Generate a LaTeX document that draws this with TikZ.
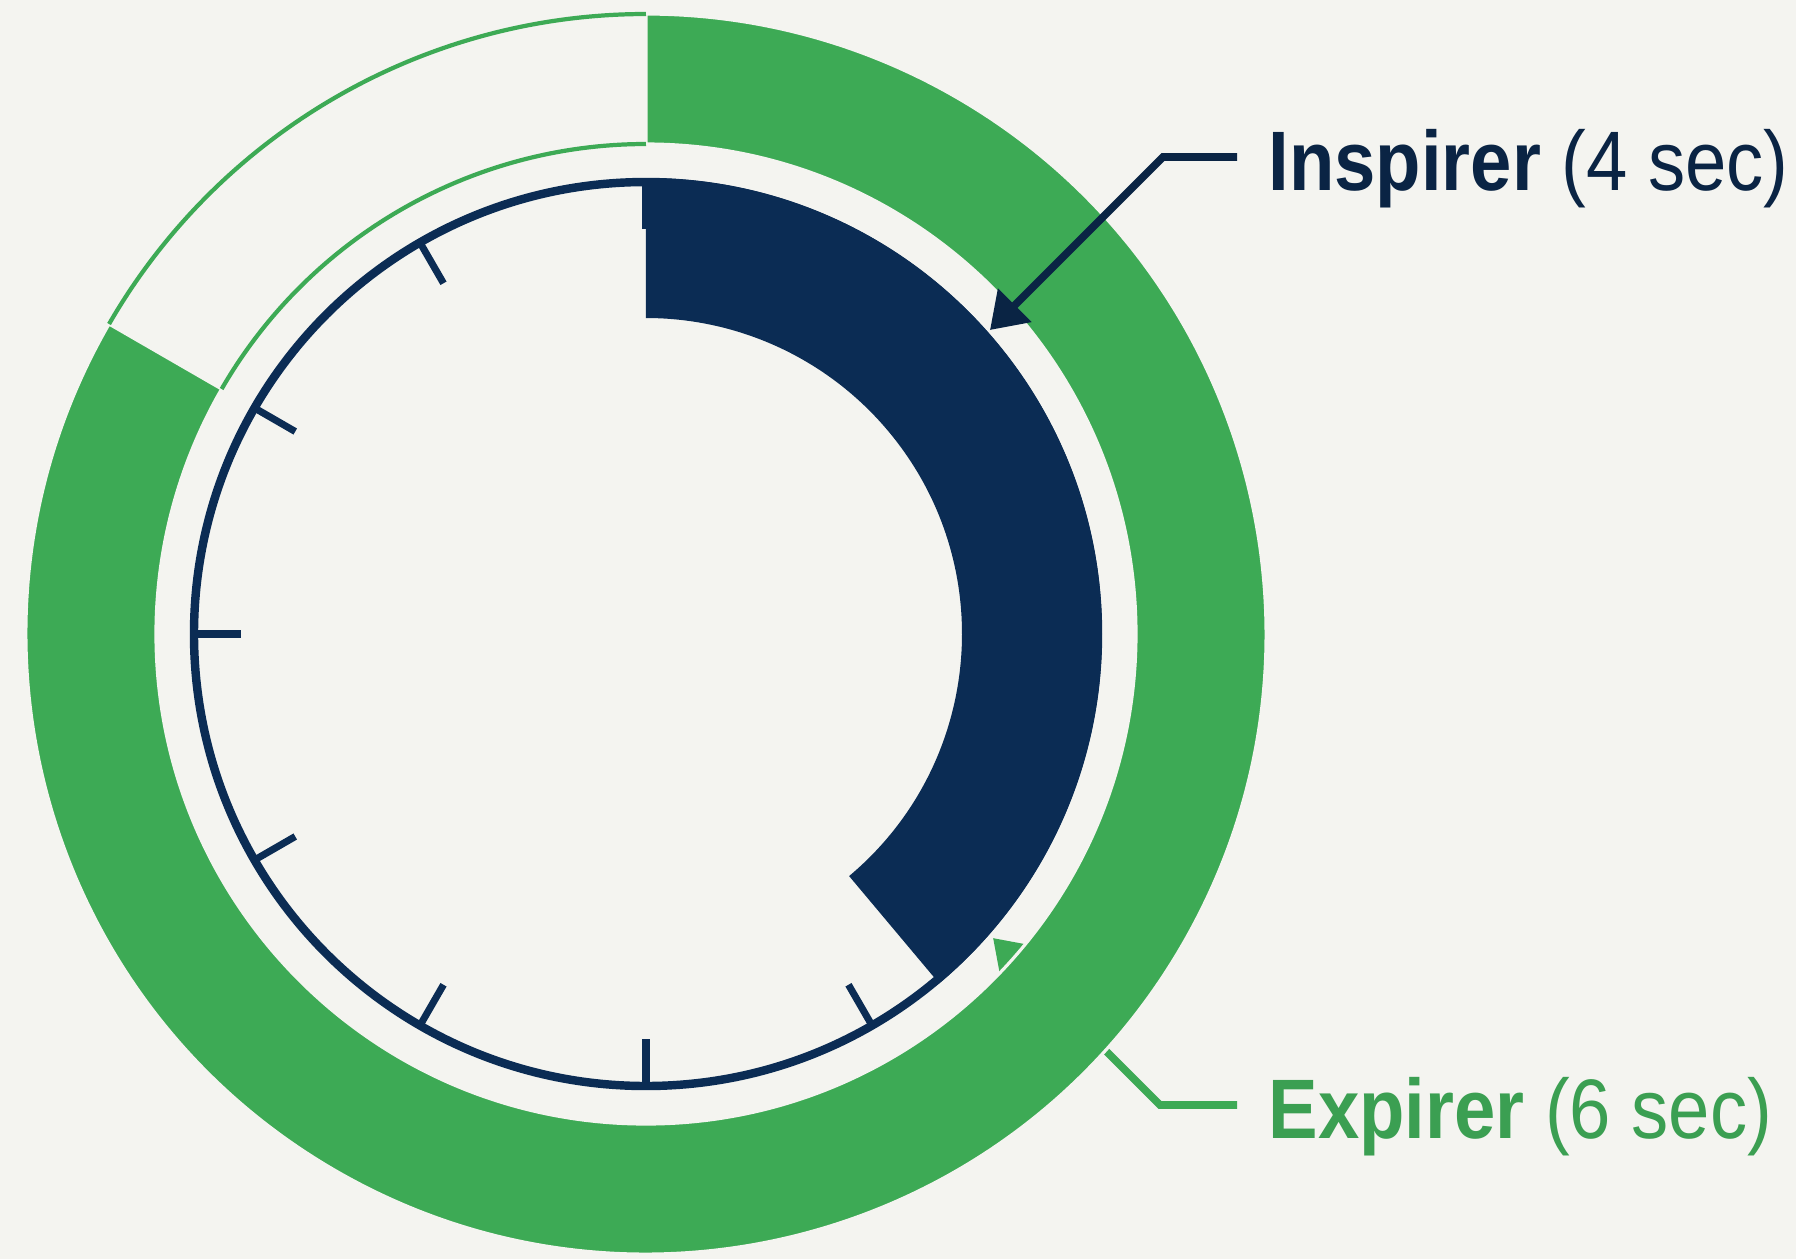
\documentclass[tikz,border=0pt]{standalone}
\usepackage{fontspec}
\setmainfont{Liberation Sans}
\usetikzlibrary{arrows.meta}
\definecolor{bgpaper}{HTML}{F4F4F0}
\definecolor{ringgreen}{HTML}{3DAA55}
\definecolor{labelgreen}{HTML}{3B9F52}
\definecolor{barnavy}{HTML}{0B2C54}
\definecolor{labelnavy}{HTML}{0A2444}

\begin{document}
\begin{tikzpicture}[x=0.01cm, y=0.01cm,
    lbl/.style={anchor=base west, inner sep=0pt, xscale=0.88,
        font=\fontsize{24pt}{29pt}\selectfont},
    leader/.style={line width=2.2pt, -{Triangle[length=10pt, width=13pt]}},
    dialtick/.style={barnavy, line width=2pt}]
    \useasboundingbox (-646,-625) rectangle (1150,634);
    \fill [bgpaper] (-646,-625) rectangle (1150,634);
    \coordinate (c) at (0,0);
    \coordinate (inTip) at (344,304);
    \coordinate (exTip) at (347,-304);
    \node [lbl, text=labelnavy] (inspirer) at (622,444) {\bfseries Inspirer \mdseries(4 sec)};
    \node [lbl, text=labelgreen] (expirer) at (622,-504) {\bfseries Expirer \mdseries(6 sec)};
    \draw [leader, ringgreen] ([shift={(-31,33)}]expirer.base west) -- ++(-77,0) -- (exTip);
    \fill [ringgreen, draw=bgpaper, line width=0.9pt] (150:620) arc[start angle=150, end angle=450, radius=620]
        -- (90:490) arc[start angle=450, end angle=150, radius=490] -- cycle;
    \draw [ringgreen, line width=1.2pt] (90:620) arc[start angle=90, end angle=150, radius=620];
    \draw [ringgreen, line width=1.2pt] (90:490) arc[start angle=90, end angle=150, radius=490];
    \draw [barnavy, line width=2.4pt] (c) circle[radius=452];
    \foreach \a in {0,30,...,330}
        \draw [dialtick] (\a:452) -- (\a:405);
    \fill [barnavy] (90:456) arc[start angle=90, end angle=-50, radius=456]
        -- (-50:316) arc[start angle=-50, end angle=90, radius=316] -- cycle;
    \draw [leader, labelnavy] ([shift={(-31,33)}]inspirer.base west) -- ++(-74,0) -- (inTip);
\end{tikzpicture}
\end{document}
